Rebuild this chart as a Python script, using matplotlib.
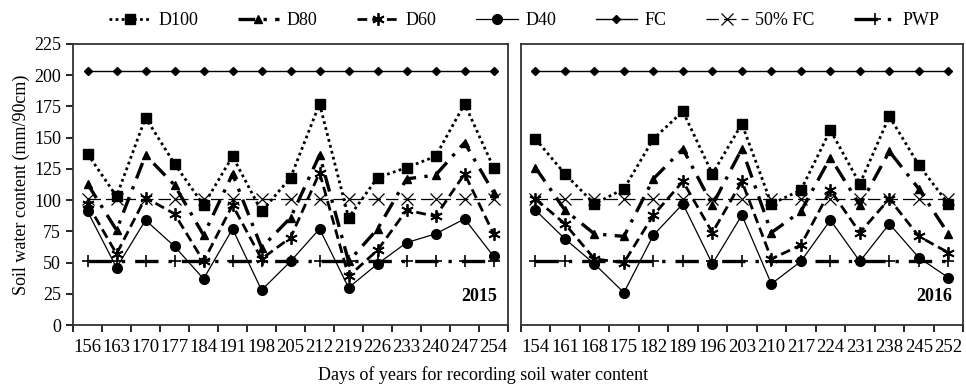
import numpy as np
import matplotlib.pyplot as plt
from matplotlib.lines import Line2D

plt.rcParams['font.family'] = ['Liberation Serif', 'DejaVu Serif']

# Day-of-year labels for each season
days_2015 = ['156', '163', '170', '177', '184', '191', '198', '205', '212', '219',
             '226', '233', '240', '247', '254']
days_2016 = ['154', '161', '168', '175', '182', '189', '196', '203', '210', '217',
             '224', '231', '238', '245', '252']

# Soil water content (mm/90cm), 2015
d100_2015 = [137, 103, 166, 129, 96, 135, 91, 118, 177, 86, 118, 126, 135, 177, 126]
d80_2015 = [113, 76, 136, 112, 72, 121, 62, 86, 136, 51, 77, 117, 120, 146, 106]
d60_2015 = [97, 57, 102, 89, 51, 96, 53, 70, 122, 39, 60, 92, 87, 121, 73]
d40_2015 = [91, 46, 84, 63, 37, 77, 28, 51, 77, 30, 49, 66, 73, 85, 55]

# Soil water content (mm/90cm), 2016
d100_2016 = [149, 121, 97, 109, 149, 171, 121, 161, 97, 108, 156, 113, 167, 128, 97]
d80_2016 = [126, 92, 73, 71, 117, 141, 96, 141, 74, 91, 134, 96, 139, 109, 73]
d60_2016 = [101, 81, 53, 50, 88, 115, 74, 115, 53, 64, 108, 74, 101, 71, 58]
d40_2016 = [92, 69, 49, 26, 72, 97, 49, 88, 33, 51, 84, 51, 81, 54, 38]

# Reference levels
fc = 203
half_fc = 101
pwp = 51

styles = {
    'D100': dict(color='black', lw=2.0, ls=(0, (1, 1.2)), marker='s', ms=7),
    'D80': dict(color='black', lw=2.4, ls=(0, (5, 2.5, 1, 2.5)), marker='^', ms=6),
    'D60': dict(color='black', lw=2.0, ls=(0, (3.5, 1.8)), marker=(6, 2, 0), ms=9, mew=1.3),
    'D40': dict(color='black', lw=0.9, ls='-', marker='o', ms=7),
    'FC': dict(color='black', lw=1.0, ls='-', marker='D', ms=4),
    '50% FC': dict(color='black', lw=0.9, ls=(0, (10, 4)), marker='x', ms=8, mew=0.9),
    'PWP': dict(color='black', lw=2.4, ls=(0, (7, 3, 1, 3)), marker='+', ms=9, mew=1.2),
}

fig = plt.figure(figsize=(9.66, 3.88), dpi=100)
ax1 = fig.add_axes([0.0756, 0.162, 0.4504, 0.725])
ax2 = fig.add_axes([0.539, 0.162, 0.458, 0.725])


def draw_panel(ax, days, d100, d80, d60, d40, year):
    x = np.arange(len(days))
    ax.plot(x, d100, **styles['D100'])
    ax.plot(x, d80, **styles['D80'])
    ax.plot(x, d60, **styles['D60'])
    ax.plot(x, d40, **styles['D40'])
    ax.plot(x, [fc] * len(x), **styles['FC'])
    ax.plot(x, [half_fc] * len(x), **styles['50% FC'])
    ax.plot(x, [pwp] * len(x), **styles['PWP'])
    ax.set_xlim(-0.5, len(days) - 0.5)
    ax.set_ylim(0, 225)
    ax.set_xticks(x)
    ax.set_xticklabels(days, fontsize=13.5)
    ax.set_xticks(np.arange(-0.5, len(days), 1), minor=True)
    ax.tick_params(axis='x', which='major', length=0, pad=10)
    ax.tick_params(axis='x', which='minor', length=5, width=1.2, direction='out')
    for sp in ax.spines.values():
        sp.set_color('#333333')
        sp.set_linewidth(1.3)
    ax.text(0.975, 0.07, year, transform=ax.transAxes, ha='right', va='bottom',
            fontsize=13, fontweight='bold')


draw_panel(ax1, days_2015, d100_2015, d80_2015, d60_2015, d40_2015, '2015')
draw_panel(ax2, days_2016, d100_2016, d80_2016, d60_2016, d40_2016, '2016')

ax1.set_yticks(np.arange(0, 226, 25))
ax1.tick_params(axis='y', length=5, width=1.2, direction='out', labelsize=13)
ax1.set_ylabel('Soil water content (mm/90cm)', fontsize=13, labelpad=3)
ax2.set_yticks([])

fig.text(0.5, 0.01, 'Days of years for recording soil water content', ha='center',
         va='bottom', fontsize=13)

names = ['D100', 'D80', 'D60', 'D40', 'FC', '50% FC', 'PWP']
handles = [Line2D([], [], **styles[n]) for n in names]
fig.legend(handles, names, loc='upper center', bbox_to_anchor=(0.543, 1.01), ncol=7,
           frameon=False, fontsize=13, handlelength=2.3, columnspacing=2.2,
           handletextpad=0.4)

fig.savefig('out.png', dpi=100)
